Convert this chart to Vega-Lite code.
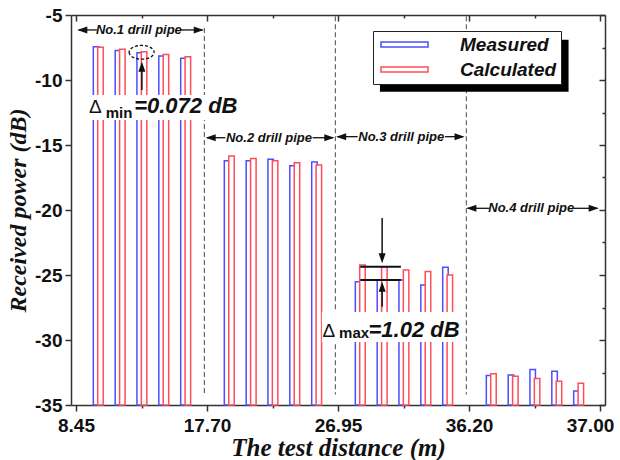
{
  "$schema": "https://vega.github.io/schema/vega-lite/v6.json",
  "width": 534,
  "height": 390,
  "autosize": {"type": "none"},
  "padding": {"left": 71, "top": 15, "right": 15, "bottom": 55},
  "background": "white",
  "config": {
    "view": {"stroke": null},
    "axis": {"grid": false, "domainColor": "#333", "domainWidth": 1.5, "tickColor": "#333", "tickWidth": 1.5},
    "text": {"font": "Liberation Sans", "color": "#111"}
  },
  "datasets": {
    "power": [
      {"pipe": "No.1", "pos": 0.17, "Measured": -7.44, "Calculated": -7.49},
      {"pipe": "No.1", "pos": 0.337, "Measured": -7.74, "Calculated": -7.64},
      {"pipe": "No.1", "pos": 0.503, "Measured": -7.90, "Calculated": -7.83},
      {"pipe": "No.1", "pos": 0.67, "Measured": -8.15, "Calculated": -8.03},
      {"pipe": "No.1", "pos": 0.837, "Measured": -8.33, "Calculated": -8.21},
      {"pipe": "No.2", "pos": 1.17, "Measured": -16.21, "Calculated": -15.85},
      {"pipe": "No.2", "pos": 1.337, "Measured": -16.21, "Calculated": -16.03},
      {"pipe": "No.2", "pos": 1.503, "Measured": -16.10, "Calculated": -16.21},
      {"pipe": "No.2", "pos": 1.67, "Measured": -16.59, "Calculated": -16.36},
      {"pipe": "No.2", "pos": 1.837, "Measured": -16.31, "Calculated": -16.54},
      {"pipe": "No.3", "pos": 2.17, "Measured": -25.51, "Calculated": -24.23},
      {"pipe": "No.3", "pos": 2.337, "Measured": -25.38, "Calculated": -24.36},
      {"pipe": "No.3", "pos": 2.503, "Measured": -25.38, "Calculated": -24.62},
      {"pipe": "No.3", "pos": 2.67, "Measured": -25.77, "Calculated": -24.74},
      {"pipe": "No.3", "pos": 2.837, "Measured": -24.41, "Calculated": -25.00},
      {"pipe": "No.4", "pos": 3.17, "Measured": -32.74, "Calculated": -32.59},
      {"pipe": "No.4", "pos": 3.337, "Measured": -32.69, "Calculated": -32.79},
      {"pipe": "No.4", "pos": 3.503, "Measured": -32.26, "Calculated": -32.97},
      {"pipe": "No.4", "pos": 3.67, "Measured": -32.41, "Calculated": -33.18},
      {"pipe": "No.4", "pos": 3.837, "Measured": -33.92, "Calculated": -33.33}
    ]
  },
  "layer": [
    {
      "layer": [
        {
          "data": {"name": "power"},
          "transform": [{"fold": ["Measured", "Calculated"], "as": ["series", "power"]}, {"filter": "datum.series == 'Measured'"}],
          "mark": {"type": "bar", "width": 5.5, "xOffset": -2.2, "fill": "white", "strokeWidth": 1.5},
          "encoding": {
            "x": {"field": "pos", "type": "quantitative", "scale": {"domain": [0, 4], "nice": false, "zero": false},
              "axis": {"orient": "bottom", "values": [0, 0.5, 1, 1.5, 2, 2.5, 3, 3.5, 4],
                "labelExpr": "datum.value == 0 ? '8.45' : datum.value == 1 ? '17.70' : datum.value == 2 ? '26.95' : datum.value == 3 ? '36.20' : datum.value == 4 ? '37.00' : ''",
                "tickSize": {"condition": {"test": "datum.value % 1 == 0", "value": 6}, "value": 3},
                "labelOffset": {"condition": {"test": "datum.value == 4", "value": -10}, "value": 0},
                "labelFont": "Liberation Sans", "labelFontWeight": "bold", "labelFontSize": 19, "labelColor": "#111", "labelPadding": 5,
                "labelFlush": false, "labelOverlap": false,
                "title": "The test distance (m)", "titleFont": "Liberation Serif", "titleFontStyle": "italic", "titleFontWeight": "bold", "titleFontSize": 25, "titleColor": "#111", "titlePadding": 0}},
            "y": {"field": "power", "type": "quantitative", "scale": {"domain": [-35, -5], "nice": false, "zero": false},
              "axis": {"orient": "left", "values": [-35, -32.5, -30, -27.5, -25, -22.5, -20, -17.5, -15, -12.5, -10, -7.5, -5],
                "labelExpr": "datum.value % 5 == 0 ? '' + datum.value : ''",
                "tickSize": {"condition": {"test": "datum.value % 5 == 0", "value": 6}, "value": 3},
                "labelFont": "Liberation Sans", "labelFontWeight": "bold", "labelFontSize": 19, "labelColor": "#111", "labelPadding": 3,
                "labelOverlap": false,
                "title": "Received power (dB)", "titleFont": "Liberation Serif", "titleFontStyle": "italic", "titleFontWeight": "bold", "titleFontSize": 24, "titleColor": "#111", "titlePadding": 4}},
            "y2": {"datum": -35},
            "stroke": {"field": "series", "type": "nominal", "scale": {"domain": ["Measured", "Calculated"], "range": ["#4d4dff", "#ff4d5a"]},
              "legend": {"orient": "none", "legendX": 302, "legendY": 16, "title": null,
                "symbolType": "M-4.7,-0.5H4.7V0.5H-4.7Z", "symbolSize": 100,
                "symbolStrokeWidth": 1.5, "symbolFillColor": "white", "symbolOffset": 18, "labelFont": "Liberation Sans", "labelFontStyle": "italic", "labelFontWeight": "bold",
                "labelFontSize": 19, "labelColor": "#111", "labelOffset": 46, "padding": 4, "rowPadding": 5, "strokeColor": "#222", "fillColor": "white", "cornerRadius": 0}}
          }
        },
        {
          "data": {"name": "power"},
          "transform": [{"fold": ["Measured", "Calculated"], "as": ["series", "power"]}, {"filter": "datum.series == 'Calculated'"}],
          "mark": {"type": "bar", "width": 5.5, "xOffset": 2.2, "fill": "white", "strokeWidth": 1.5},
          "encoding": {
            "x": {"field": "pos", "type": "quantitative"},
            "y": {"field": "power", "type": "quantitative"},
            "y2": {"datum": -35},
            "stroke": {"field": "series", "type": "nominal"}
          }
        },
        {"data": {"values": [{}]}, "mark": {"type": "rule", "strokeDash": [5, 3], "color": "#666", "strokeWidth": 1.2},
          "encoding": {"x": {"datum": 0.98}, "y": {"datum": -6.0}, "y2": {"datum": -34.2}}},
        {"data": {"values": [{}]}, "mark": {"type": "rule", "strokeDash": [5, 3], "color": "#666", "strokeWidth": 1.2},
          "encoding": {"x": {"datum": 1.98}, "y": {"datum": -5.1}, "y2": {"datum": -34.2}}},
        {"data": {"values": [{}]}, "mark": {"type": "rule", "strokeDash": [5, 3], "color": "#666", "strokeWidth": 1.2},
          "encoding": {"x": {"datum": 2.98}, "y": {"datum": -5.1}, "y2": {"datum": -34.2}}},
        {"data": {"values": [{}]}, "mark": {"type": "rect", "fill": "black"},
          "encoding": {"x": {"datum": 2.32}, "x2": {"datum": 3.76}, "y": {"datum": -6.9}, "y2": {"datum": -10.9}}},
        {"data": {"values": [{}]}, "mark": {"type": "rect", "fill": "white"},
          "encoding": {"x": {"datum": 0.07}, "x2": {"datum": 1.282}, "y": {"datum": -11.15}, "y2": {"datum": -13.08}}},
        {"data": {"values": [{}]}, "mark": {"type": "rect", "fill": "white"},
          "encoding": {"x": {"datum": 1.877}, "x2": {"datum": 2.96}, "y": {"datum": -27.85}, "y2": {"datum": -30.15}}},

        {"data": {"values": [{}]}, "mark": {"type": "text", "text": "Δ", "align": "left", "baseline": "alphabetic", "fontSize": 19},
          "encoding": {"x": {"datum": 0.099}, "y": {"datum": -12.54}}},
        {"data": {"values": [{}]}, "mark": {"type": "text", "text": "min", "align": "left", "baseline": "alphabetic", "fontSize": 15, "fontWeight": "bold"},
          "encoding": {"x": {"datum": 0.227}, "y": {"datum": -12.92}}},
        {"data": {"values": [{}]}, "mark": {"type": "text", "text": "=0.072 dB", "align": "left", "baseline": "alphabetic", "fontSize": 22, "fontWeight": "bold", "fontStyle": "italic"},
          "encoding": {"x": {"datum": 0.444}, "y": {"datum": -12.56}}},
        {"data": {"values": [{}]}, "mark": {"type": "text", "text": "Δ", "align": "left", "baseline": "alphabetic", "fontSize": 19},
          "encoding": {"x": {"datum": 1.881}, "y": {"datum": -29.77}}},
        {"data": {"values": [{}]}, "mark": {"type": "text", "text": "max", "align": "left", "baseline": "alphabetic", "fontSize": 15, "fontWeight": "bold"},
          "encoding": {"x": {"datum": 2.008}, "y": {"datum": -29.87}}},
        {"data": {"values": [{}]}, "mark": {"type": "text", "text": "=1.02 dB", "align": "left", "baseline": "alphabetic", "fontSize": 22, "fontWeight": "bold", "fontStyle": "italic"},
          "encoding": {"x": {"datum": 2.233}, "y": {"datum": -29.75}}},

        {"data": {"values": [{}]}, "mark": {"type": "text", "text": "No.1 drill pipe", "align": "center", "baseline": "middle", "fontSize": 13, "fontWeight": "bold", "fontStyle": "italic"},
          "encoding": {"x": {"datum": 0.48}, "y": {"datum": -6.15}}},
        {"data": {"values": [{}]}, "mark": {"type": "rule", "color": "#111", "strokeWidth": 1.3},
          "encoding": {"x": {"datum": 0.02}, "x2": {"datum": 0.159}, "y": {"datum": -6.15}}},
        {"data": {"values": [{}]}, "mark": {"type": "rule", "color": "#111", "strokeWidth": 1.3},
          "encoding": {"x": {"datum": 0.796}, "x2": {"datum": 0.965}, "y": {"datum": -6.15}}},
        {"data": {"values": [{}]}, "mark": {"type": "point", "shape": "M0,0L2,-0.7L2,0.7Z", "size": 100, "filled": true, "color": "#111", "opacity": 1},
          "encoding": {"x": {"datum": 0.01}, "y": {"datum": -6.15}}},
        {"data": {"values": [{}]}, "mark": {"type": "point", "shape": "M0,0L-2,-0.7L-2,0.7Z", "size": 100, "filled": true, "color": "#111", "opacity": 1},
          "encoding": {"x": {"datum": 0.975}, "y": {"datum": -6.15}}},

        {"data": {"values": [{}]}, "mark": {"type": "text", "text": "No.2 drill pipe", "align": "center", "baseline": "middle", "fontSize": 13, "fontWeight": "bold", "fontStyle": "italic"},
          "encoding": {"x": {"datum": 1.473}, "y": {"datum": -14.44}}},
        {"data": {"values": [{}]}, "mark": {"type": "rule", "color": "#111", "strokeWidth": 1.3},
          "encoding": {"x": {"datum": 1.0}, "x2": {"datum": 1.14}, "y": {"datum": -14.44}}},
        {"data": {"values": [{}]}, "mark": {"type": "rule", "color": "#111", "strokeWidth": 1.3},
          "encoding": {"x": {"datum": 1.806}, "x2": {"datum": 1.962}, "y": {"datum": -14.44}}},
        {"data": {"values": [{}]}, "mark": {"type": "point", "shape": "M0,0L2,-0.7L2,0.7Z", "size": 100, "filled": true, "color": "#111", "opacity": 1},
          "encoding": {"x": {"datum": 0.99}, "y": {"datum": -14.44}}},
        {"data": {"values": [{}]}, "mark": {"type": "point", "shape": "M0,0L-2,-0.7L-2,0.7Z", "size": 100, "filled": true, "color": "#111", "opacity": 1},
          "encoding": {"x": {"datum": 1.972}, "y": {"datum": -14.44}}},

        {"data": {"values": [{}]}, "mark": {"type": "text", "text": "No.3 drill pipe", "align": "center", "baseline": "middle", "fontSize": 13, "fontWeight": "bold", "fontStyle": "italic"},
          "encoding": {"x": {"datum": 2.483}, "y": {"datum": -14.36}}},
        {"data": {"values": [{}]}, "mark": {"type": "rule", "color": "#111", "strokeWidth": 1.3},
          "encoding": {"x": {"datum": 1.996}, "x2": {"datum": 2.15}, "y": {"datum": -14.36}}},
        {"data": {"values": [{}]}, "mark": {"type": "rule", "color": "#111", "strokeWidth": 1.3},
          "encoding": {"x": {"datum": 2.817}, "x2": {"datum": 2.956}, "y": {"datum": -14.36}}},
        {"data": {"values": [{}]}, "mark": {"type": "point", "shape": "M0,0L2,-0.7L2,0.7Z", "size": 100, "filled": true, "color": "#111", "opacity": 1},
          "encoding": {"x": {"datum": 1.986}, "y": {"datum": -14.36}}},
        {"data": {"values": [{}]}, "mark": {"type": "point", "shape": "M0,0L-2,-0.7L-2,0.7Z", "size": 100, "filled": true, "color": "#111", "opacity": 1},
          "encoding": {"x": {"datum": 2.966}, "y": {"datum": -14.36}}},

        {"data": {"values": [{}]}, "mark": {"type": "text", "text": "No.4 drill pipe", "align": "center", "baseline": "middle", "fontSize": 13, "fontWeight": "bold", "fontStyle": "italic"},
          "encoding": {"x": {"datum": 3.475}, "y": {"datum": -19.87}}},
        {"data": {"values": [{}]}, "mark": {"type": "rule", "color": "#111", "strokeWidth": 1.3},
          "encoding": {"x": {"datum": 2.99}, "x2": {"datum": 3.154}, "y": {"datum": -19.87}}},
        {"data": {"values": [{}]}, "mark": {"type": "rule", "color": "#111", "strokeWidth": 1.3},
          "encoding": {"x": {"datum": 3.8}, "x2": {"datum": 3.98}, "y": {"datum": -19.87}}},
        {"data": {"values": [{}]}, "mark": {"type": "point", "shape": "M0,0L2,-0.7L2,0.7Z", "size": 100, "filled": true, "color": "#111", "opacity": 1},
          "encoding": {"x": {"datum": 2.98}, "y": {"datum": -19.87}}},
        {"data": {"values": [{}]}, "mark": {"type": "point", "shape": "M0,0L-2,-0.7L-2,0.7Z", "size": 100, "filled": true, "color": "#111", "opacity": 1},
          "encoding": {"x": {"datum": 3.99}, "y": {"datum": -19.87}}},

        {"data": {"values": [{}]}, "mark": {"type": "point", "shape": "M-1,0A1,0.55 0 1,0 1,0A1,0.55 0 1,0 -1,0", "size": 625, "filled": false, "color": "#111", "strokeWidth": 1.3, "strokeDash": [3, 2], "opacity": 1},
          "encoding": {"x": {"datum": 0.501}, "y": {"datum": -7.87}}},
        {"data": {"values": [{}]}, "mark": {"type": "rule", "color": "#111", "strokeWidth": 1.5},
          "encoding": {"x": {"datum": 0.503}, "y": {"datum": -10.77}, "y2": {"datum": -9.3}}},
        {"data": {"values": [{}]}, "mark": {"type": "point", "shape": "M0,0L-0.7,2L0.7,2Z", "size": 100, "filled": true, "color": "#111", "opacity": 1},
          "encoding": {"x": {"datum": 0.503}, "y": {"datum": -8.59}}},

        {"data": {"values": [{}]}, "mark": {"type": "rule", "color": "#111", "strokeWidth": 2},
          "encoding": {"x": {"datum": 2.17}, "x2": {"datum": 2.48}, "y": {"datum": -24.36}}},
        {"data": {"values": [{}]}, "mark": {"type": "rule", "color": "#111", "strokeWidth": 2},
          "encoding": {"x": {"datum": 2.17}, "x2": {"datum": 2.48}, "y": {"datum": -25.38}}},
        {"data": {"values": [{}]}, "mark": {"type": "rule", "color": "#111", "strokeWidth": 1.5},
          "encoding": {"x": {"datum": 2.337}, "y": {"datum": -20.62}, "y2": {"datum": -23.4}}},
        {"data": {"values": [{}]}, "mark": {"type": "point", "shape": "M0,0L-0.7,-2L0.7,-2Z", "size": 100, "filled": true, "color": "#111", "opacity": 1},
          "encoding": {"x": {"datum": 2.337}, "y": {"datum": -24.1}}},
        {"data": {"values": [{}]}, "mark": {"type": "rule", "color": "#111", "strokeWidth": 1.5},
          "encoding": {"x": {"datum": 2.337}, "y": {"datum": -26.2}, "y2": {"datum": -27.44}}},
        {"data": {"values": [{}]}, "mark": {"type": "point", "shape": "M0,0L-0.7,2L0.7,2Z", "size": 100, "filled": true, "color": "#111", "opacity": 1},
          "encoding": {"x": {"datum": 2.337}, "y": {"datum": -25.52}}}
      ]
    },
    {
      "data": {"values": [{}]},
      "mark": {"type": "point", "opacity": 0},
      "encoding": {
        "x": {"datum": 0, "type": "quantitative", "axis": {"orient": "top", "values": [0, 0.5, 1, 1.5, 2, 2.5, 3, 3.5, 4], "labels": false, "title": null,
          "tickSize": {"condition": {"test": "datum.value % 1 == 0", "value": -6}, "value": -3}}},
        "y": {"datum": -35, "type": "quantitative", "axis": {"orient": "right", "values": [-35, -32.5, -30, -27.5, -25, -22.5, -20, -17.5, -15, -12.5, -10, -7.5, -5], "labels": false, "title": null,
          "tickSize": {"condition": {"test": "datum.value % 5 == 0", "value": -6}, "value": -3}}}
      }
    }
  ],
  "resolve": {"axis": {"x": "independent", "y": "independent"}}
}
